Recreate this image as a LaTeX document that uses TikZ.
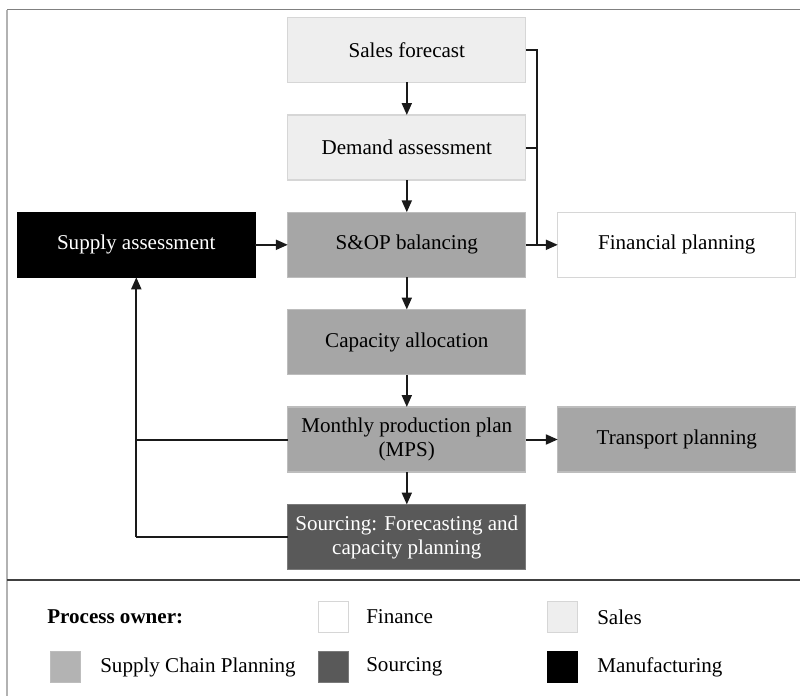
\documentclass[tikz,border=0pt]{standalone}
\usepackage{fontspec}
\setmainfont{Liberation Serif}
\usetikzlibrary{arrows.meta}
\definecolor{salesc}{HTML}{EEEEEE}
\definecolor{salesd}{HTML}{D6D6D6}
\definecolor{scpc}{HTML}{A6A6A6}
\definecolor{scpd}{HTML}{BDBDBD}
\definecolor{srcc}{HTML}{595959}
\definecolor{srcd}{HTML}{7A7A7A}
\definecolor{find}{HTML}{D6D6D6}
\definecolor{linec}{HTML}{1A1A1A}
\tikzset{
  txt/.style={font=\fontsize{15.8}{18}\selectfont},
  box/.style={txt, minimum width=178.5pt, minimum height=48.75pt, inner sep=0pt, outer sep=0pt, align=center, line width=0.8pt},
  salesbox/.style={box, fill=salesc, draw=salesd},
  scpbox/.style={box, fill=scpc, draw=scpd},
  srcbox/.style={box, fill=srcc, draw=srcd, text=white},
  mfgbox/.style={box, fill=black, draw=black, text=white},
  finbox/.style={box, fill=white, draw=find},
  conn/.style={draw=linec, line width=1.5pt},
  arr/.style={conn, -{Triangle[length=9pt,width=7.5pt]}},
  swatch/.style={minimum width=22.5pt, minimum height=23pt, inner sep=0pt, line width=0.6pt},
  legtxt/.style={txt, anchor=west, inner sep=0pt}
}
\begin{document}
\begin{tikzpicture}[x=0.75pt,y=-0.75pt]
\useasboundingbox (0,0) rectangle (800,696);
% frame
\draw[draw=gray, line width=1.2pt] (7,9.5) -- (800,9.5);
\draw[draw=black!30, line width=1.5pt] (7,9.5) -- (7,696);
\draw[draw=black!75, line width=1.6pt] (7,580) -- (800,580);
% nodes
\node[salesbox] (sales) at (406.8,49.8) {Sales forecast};
\node[salesbox] (demand) at (406.8,147.5) {Demand assessment};
\node[scpbox] (sop) at (406.8,244.8) {S\&OP balancing};
\node[scpbox] (cap) at (406.8,342) {Capacity allocation};
\node[scpbox] (mps) at (406.8,439.5) {Monthly production plan\\(MPS)};
\node[srcbox] (src) at (406.8,537) {Sourcing: Forecasting and\\capacity planning};
\node[mfgbox] (supply) at (136.3,244.8) {Supply assessment};
\node[finbox] (fin) at (676.8,244.8) {Financial planning};
\node[scpbox] (trans) at (676.8,439.5) {Transport planning};
% connectors
\draw[arr] (sales) -- (demand);
\draw[arr] (demand) -- (sop);
\draw[arr] (sop) -- (cap);
\draw[arr] (cap) -- (mps);
\draw[arr] (mps) -- (src);
\draw[arr] (supply) -- (sop);
\draw[arr] (mps) -- (trans);
\coordinate (j1) at (537,49.8);
\draw[conn] (sales.east) -- (j1) -- (j1 |- sop.east);
\draw[conn] (demand.east) -- (demand.east -| j1);
\draw[arr] (sop.east) -- (fin.west);
\draw[conn] (mps.west) -- (mps.west -| supply.south);
\draw[conn] (src.west) -- (src.west -| supply.south);
\draw[arr] (src.west -| supply.south) -- (supply.south);
% legend
\node[legtxt, font=\fontsize{15.8}{18}\selectfont\bfseries] (owner) at (47,617) {Process owner:};
\node[swatch, fill=white, draw=find] (swfin) at (333,617) {};
\node[legtxt] (lfin) at (366,617) {Finance};
\node[swatch, fill=salesc, draw=salesc!90!black] (swsales) at (562,617) {};
\node[legtxt] (lsales) at (597,617) {Sales};
\node[swatch, fill=scpc!85!white, draw=scpd] (swscp) at (65,667) {};
\node[legtxt] (lscp) at (100,667) {Supply Chain Planning};
\node[swatch, fill=srcc, draw=srcd] (swsrc) at (333,667) {};
\node[legtxt] (lsrc) at (366,667) {Sourcing};
\node[swatch, fill=black, draw=black] (swmfg) at (562,667) {};
\node[legtxt] (lmfg) at (597,667) {Manufacturing};
\end{tikzpicture}
\end{document}
